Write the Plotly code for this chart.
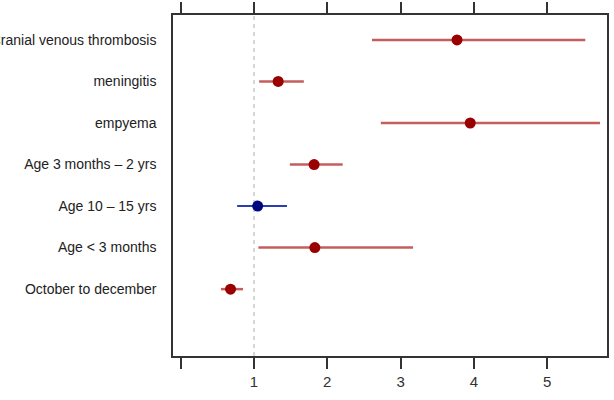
import plotly.graph_objects as go

labels = ["Cranial venous thrombosis", "meningitis", "empyema", "Age 3 months \u2013 2 yrs",
          "Age 10 \u2013 15 yrs", "Age < 3 months", "October to december"]
estimate = [3.77, 1.33, 3.95, 1.82, 1.05, 1.83, 0.68]
lower = [2.61, 1.07, 2.73, 1.49, 0.77, 1.06, 0.55]
upper = [5.52, 1.68, 5.72, 2.21, 1.45, 3.17, 0.85]
group = ["red", "red", "red", "red", "blue", "red", "red"]
x_ticks = [0, 1, 2, 3, 4, 5]
x_ticklabels = ["", "1", "2", "3", "4", "5"]

n = len(labels)
ypos = [n - i for i in range(n)]

fig = go.Figure()

styles = {
    "red": dict(line="rgba(190,75,75,0.9)", lw=2.5, marker="#9a0000"),
    "blue": dict(line="#2a3fb0", lw=2, marker="#00067f"),
}

for g in ["red", "blue"]:
    idx = [i for i in range(n) if group[i] == g]
    xs, ys = [], []
    for i in idx:
        xs += [lower[i], upper[i], None]
        ys += [ypos[i], ypos[i], None]
    fig.add_trace(go.Scatter(x=xs, y=ys, mode="lines",
                             line=dict(color=styles[g]["line"], width=styles[g]["lw"]),
                             hoverinfo="skip", showlegend=False))
    fig.add_trace(go.Scatter(x=[estimate[i] for i in idx], y=[ypos[i] for i in idx],
                             mode="markers",
                             marker=dict(color=styles[g]["marker"], size=11),
                             showlegend=False))

fig.add_shape(type="line", xref="x", yref="paper", x0=1, x1=1, y0=0, y1=1,
              line=dict(color="#d6d6d6", width=2, dash="4px,4px"), layer="below")

fig.update_layout(
    width=614, height=400,
    margin=dict(l=173, r=7, t=15, b=44),
    paper_bgcolor="white", plot_bgcolor="white",
    font=dict(family="Liberation Sans, Arial, sans-serif", color="#222222"),
)
fig.update_xaxes(range=[-0.105, 5.816], tickvals=x_ticks, ticktext=x_ticklabels,
                 ticks="outside", ticklen=11, tickwidth=1.5, tickcolor="#333333",
                 showline=True, linecolor="#333333", linewidth=1.5, mirror="ticks",
                 showgrid=False, zeroline=False, automargin=False,
                 tickfont=dict(size=15, color="#333333"))
fig.update_yaxes(range=[-0.61, 7.60], tickvals=ypos, ticktext=labels,
                 ticks="", showline=True, linecolor="#333333", linewidth=1.5, mirror=True,
                 showgrid=False, zeroline=False, ticklabelstandoff=12, automargin=False,
                 tickfont=dict(size=14, color="#222222"))

fig.write_html("out.html")
